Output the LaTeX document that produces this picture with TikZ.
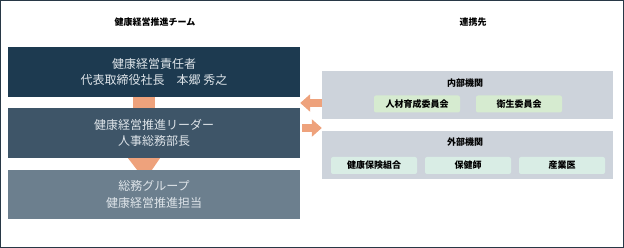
\documentclass[tikz,border=0pt]{standalone}
\usepackage{fontspec}
\setmainfont{Noto Sans CJK JP}
\usetikzlibrary{arrows.meta,calc}
\definecolor{framecol}{RGB}{40,56,70}
\definecolor{leadcol}{RGB}{29,58,80}
\definecolor{leadercol}{RGB}{62,85,104}
\definecolor{groupcol}{RGB}{108,127,142}
\definecolor{panelcol}{RGB}{205,211,219}
\definecolor{innercol}{RGB}{214,235,208}
\definecolor{outercol}{RGB}{217,237,229}
\definecolor{flowcol}{RGB}{238,162,124}
\definecolor{lighttext}{RGB}{222,228,233}

\tikzset{
  teambox/.style={minimum width=292pt, minimum height=50pt, inner sep=0pt,
    text=lighttext, font=\fontsize{12}{16.5}\selectfont, align=center},
  panel/.style={fill=panelcol, minimum width=291pt, minimum height=48pt, inner sep=0pt},
  memberbox/.style={rounded corners=2pt, minimum width=86pt, minimum height=17pt,
    inner sep=0pt, font=\bfseries\fontsize{9}{10}\selectfont},
  heading/.style={font=\bfseries\fontsize{9}{10}\selectfont},
  flow/.style={flowcol, line width=8pt, -{Triangle[length=10pt,width=17pt]}}
}

\begin{document}
\begin{tikzpicture}[x=1pt, y=-1pt]
  \useasboundingbox (0,0) rectangle (624,248);
  \draw[framecol, line width=1pt] (0.5,0.5) rectangle (623.5,247.5);
  % Headings
  \node[heading] (teamtitle) at (155,22) {健康経営推進チーム};
  \node[heading] (linktitle) at (473,22) {連携先};
  % Team boxes
  \node[teambox, fill=leadcol] (lead) at (154,72) {健康経営責任者\\代表取締役社長　本郷 秀之};
  \node[teambox, fill=leadercol] (leader) at (154,133) {健康経営推進リーダー\\人事総務部長};
  \node[teambox, fill=groupcol, minimum height=49pt] (group) at (154,194.5) {総務グループ\\健康経営推進担当};
  % Links between the team boxes
  \fill[flowcol] ($(lead.south)+(-21,0)$) rectangle ($(leader.north)+(1,0)$);
  \fill[flowcol] ($(leader.south)+(-26,0)$) -- ($(leader.south)+(6,0)$)
    -- ($(group.north)+(-2,0)$) -- ($(group.north)+(-17,0)$) -- cycle;
  % Partner panels
  \node[panel] (inner) at (467.5,95) {};
  \node[panel] (outer) at (467.5,155) {};
  \node[heading] (innertitle) at (465,83) {内部機関};
  \node[heading] (outertitle) at (465,142) {外部機関};
  \node[memberbox, fill=innercol] (training) at (417,104) {人材育成委員会};
  \node[memberbox, fill=innercol] (hygiene) at (519,104) {衛生委員会};
  \foreach \name/\x/\txt in {insurance/374/健康保険組合, nurse/468/保健師, doctor/562/産業医}
    \node[memberbox, fill=outercol] (\name) at (\x,165.5) {\txt};
  % Arrows to and from the partners
  \draw[flow] ($(inner.west)+(0,8)$) -- ($(lead.east)+(0,31)$);
  \draw[flow] ($(leader.east)+(2,-5)$) -- ($(outer.west)+(0,-27)$);
\end{tikzpicture}
\end{document}
